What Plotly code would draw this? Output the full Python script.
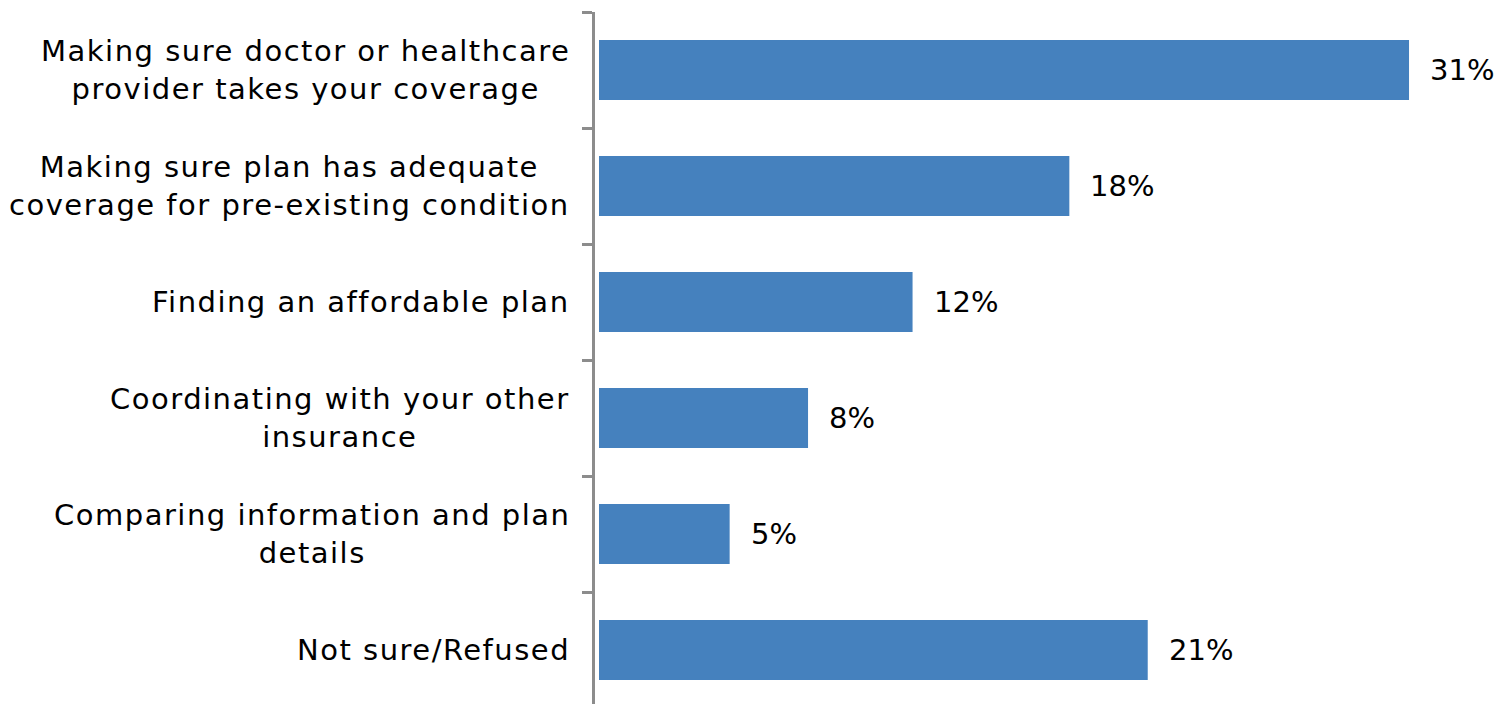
import plotly.graph_objects as go

# Survey responses: biggest challenge when choosing a plan
categories = [
    "Making sure doctor or healthcare<br>provider takes your coverage",
    "Making sure plan has adequate<br>coverage for pre-existing condition",
    "Finding an affordable plan",
    "Coordinating with your other<br>insurance",
    "Comparing information and plan<br>details",
    "Not sure/Refused",
]
values = [31, 18, 12, 8, 5, 21]
value_labels = ["31%", "18%", "12%", "8%", "5%", "21%"]

BAR_COLOR = "#4581BE"
AXIS_COLOR = "#8C8C8C"
FONT = "DejaVu Sans"
LETTER_SPACING = "1.5px"

W, H = 1504, 704
LEFT, TOP = 595, 12
BAND = 116.0          # pixel height of one category band
PX_PER_UNIT = 26.13   # pixel width of one percentage point
ZERO_OFFSET = 4       # gap between axis line and bar start

fig = go.Figure(
    go.Bar(
        x=values,
        y=categories,
        orientation="h",
        marker=dict(color=BAR_COLOR, line=dict(width=0)),
        hoverinfo="skip",
    )
)

# Category labels, drawn as annotations so they can be spaced out a bit
for cat in categories:
    lines = cat.split("<br>")
    text = "<br>".join(
        f"<span style='letter-spacing:{LETTER_SPACING}'>{ln}</span>" for ln in lines
    )
    fig.add_annotation(
        x=0, xref="paper", y=cat, yref="y",
        xanchor="right", yanchor="middle",
        xshift=-23,
        text=text, showarrow=False, align="center",
        font=dict(family=FONT, size=29, color="#000000"),
    )

# Value labels to the right of each bar
for cat, v, lab in zip(categories, values, value_labels):
    fig.add_annotation(
        x=v, xref="x", y=cat, yref="y",
        xanchor="left", yanchor="middle",
        xshift=19,
        text=lab, showarrow=False,
        font=dict(family=FONT, size=29, color="#000000"),
    )

plot_w = W - LEFT
plot_h = H - TOP
x0 = -ZERO_OFFSET / PX_PER_UNIT
fig.update_layout(
    width=W, height=H,
    margin=dict(l=LEFT, r=0, t=TOP, b=0, pad=0),
    paper_bgcolor="white", plot_bgcolor="white",
    bargap=1 - 60 / BAND,
    showlegend=False,
    xaxis=dict(
        range=[x0, x0 + plot_w / PX_PER_UNIT],
        visible=False, showgrid=False, zeroline=False,
    ),
    yaxis=dict(
        type="category",
        categoryorder="array", categoryarray=categories,
        range=[-0.5 + plot_h / BAND, -0.5],
        showticklabels=False, showgrid=False, zeroline=False,
        showline=True, linecolor=AXIS_COLOR, linewidth=3,
        ticks="outside", tickson="boundaries",
        ticklen=10, tickwidth=3, tickcolor=AXIS_COLOR,
    ),
)

fig.write_html("out.html")
